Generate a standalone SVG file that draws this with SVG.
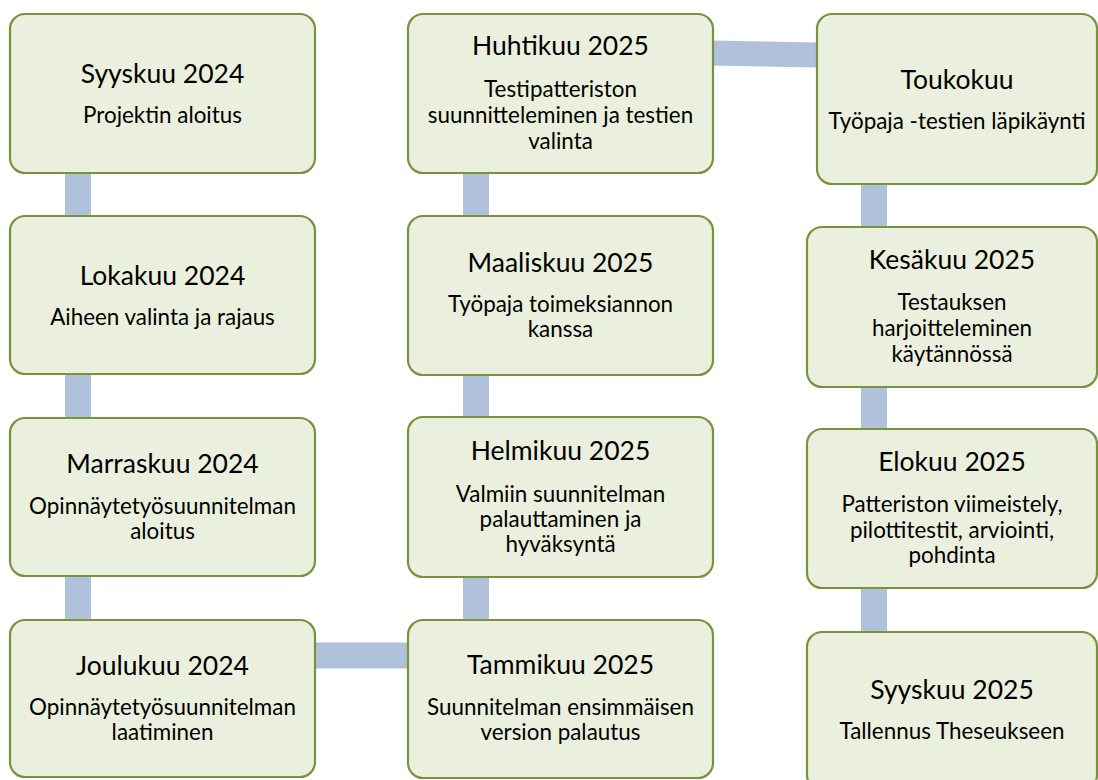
<svg xmlns="http://www.w3.org/2000/svg" width="1098" height="780" viewBox="0 0 1098 780">
<style>
.box{fill:#ebf0de;stroke:#77933c;stroke-width:2.2}
.con{stroke:#b0c1dc;stroke-width:26;fill:none}
.t{font-family:Lato,"Open Sans",sans-serif;fill:#000;text-anchor:middle}
.h{font-size:26.5px}
.s{font-size:22.4px}
</style>
<rect width="1098" height="780" fill="#fff"/>
<g id="connectors">
<line class="con" x1="78" y1="172" x2="78" y2="218"/>
<line class="con" x1="78" y1="373" x2="78" y2="420"/>
<line class="con" x1="78" y1="575" x2="78" y2="622"/>
<line class="con" x1="314" y1="655.5" x2="410" y2="655.5"/>
<line class="con" x1="476" y1="172" x2="476" y2="218"/>
<line class="con" x1="476" y1="375" x2="476" y2="419"/>
<line class="con" x1="476" y1="576" x2="476" y2="622"/>
<polygon points="712,40.5 818,42.5 818,67.5 712,65.5" fill="#b0c1dc"/>
<line class="con" x1="874" y1="183" x2="874" y2="229"/>
<line class="con" x1="874" y1="386" x2="874" y2="431"/>
<line class="con" x1="874" y1="587" x2="874" y2="634"/>
</g>
<g id="n1"><rect class="box" x="10" y="14" width="305" height="159" rx="15"/>
<text class="t h" x="162.5" y="83">Syyskuu 2024</text>
<text class="t s" x="162.5" y="123">Projektin aloitus</text></g>
<g id="n2"><rect class="box" x="10" y="216" width="305" height="158" rx="15"/>
<text class="t h" x="162.5" y="285">Lokakuu 2024</text>
<text class="t s" x="162.5" y="325">Aiheen valinta ja rajaus</text></g>
<g id="n3"><rect class="box" x="10" y="418" width="305" height="158" rx="15"/>
<text class="t h" x="162.5" y="473">Marraskuu 2024</text>
<text class="t s" x="162.5" y="514">Opinnäytetyösuunnitelman</text>
<text class="t s" x="162.5" y="539">aloitus</text></g>
<g id="n4"><rect class="box" x="10" y="620" width="305" height="157" rx="15"/>
<text class="t h" x="162.5" y="675">Joulukuu 2024</text>
<text class="t s" x="162.5" y="715">Opinnäytetyösuunnitelman</text>
<text class="t s" x="162.5" y="740">laatiminen</text></g>
<g id="n5"><rect class="box" x="408" y="14" width="305" height="159" rx="15"/>
<text class="t h" x="560.5" y="55">Huhtikuu 2025</text>
<text class="t s" x="560.5" y="97">Testipatteriston</text>
<text class="t s" x="560.5" y="123">suunnitteleminen ja testien</text>
<text class="t s" x="560.5" y="149">valinta</text></g>
<g id="n6"><rect class="box" x="408" y="216" width="305" height="159" rx="15"/>
<text class="t h" x="560.5" y="272">Maaliskuu 2025</text>
<text class="t s" x="560.5" y="312">Työpaja toimeksiannon</text>
<text class="t s" x="560.5" y="337">kanssa</text></g>
<g id="n7"><rect class="box" x="408" y="417" width="305" height="160" rx="15"/>
<text class="t h" x="560.5" y="460">Helmikuu 2025</text>
<text class="t s" x="560.5" y="502">Valmiin suunnitelman</text>
<text class="t s" x="560.5" y="527">palauttaminen ja</text>
<text class="t s" x="560.5" y="552">hyväksyntä</text></g>
<g id="n8"><rect class="box" x="408" y="620" width="305" height="158" rx="15"/>
<text class="t h" x="560.5" y="674">Tammikuu 2025</text>
<text class="t s" x="560.5" y="715">Suunnitelman ensimmäisen</text>
<text class="t s" x="560.5" y="740">version palautus</text></g>
<g id="n9"><rect class="box" x="817" y="14" width="280" height="170" rx="15"/>
<text class="t h" x="957" y="89">Toukokuu</text>
<text class="t s" x="957" y="129">Työpaja -testien läpikäynti</text></g>
<g id="n10"><rect class="box" x="807" y="227" width="290" height="160" rx="15"/>
<text class="t h" x="952" y="269">Kesäkuu 2025</text>
<text class="t s" x="952" y="310">Testauksen</text>
<text class="t s" x="952" y="336">harjoitteleminen</text>
<text class="t s" x="952" y="362">käytännössä</text></g>
<g id="n11"><rect class="box" x="807" y="429" width="290" height="159" rx="15"/>
<text class="t h" x="952" y="471">Elokuu 2025</text>
<text class="t s" x="952" y="512">Patteriston viimeistely,</text>
<text class="t s" x="952" y="538">pilottitestit, arviointi,</text>
<text class="t s" x="952" y="563">pohdinta</text></g>
<g id="n12"><rect class="box" x="807" y="632" width="290" height="158" rx="15"/>
<text class="t h" x="952" y="699">Syyskuu 2025</text>
<text class="t s" x="952" y="739">Tallennus Theseukseen</text></g>
</svg>
